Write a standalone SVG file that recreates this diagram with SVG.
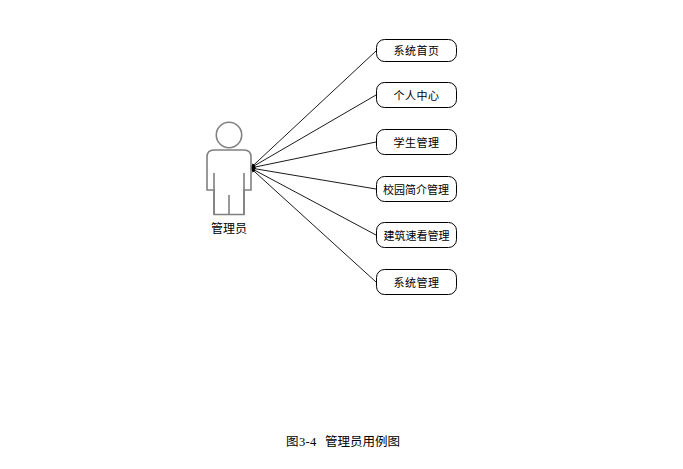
<svg xmlns="http://www.w3.org/2000/svg" width="683" height="469" viewBox="0 0 683 469">
<defs>
<marker id="a" markerWidth="5" markerHeight="4" refX="0" refY="2" orient="auto" markerUnits="userSpaceOnUse"><path d="M5 0L0 2L5 4Z" fill="#000"/></marker>
</defs>
<style>
text{font-family:"Liberation Sans","Noto Sans CJK SC",sans-serif;fill:#000}
.u{font-size:11px;text-anchor:middle}
.b{fill:#fff;stroke:#000;stroke-width:1}
.c{stroke:#000;stroke-width:.9;fill:none;marker-start:url(#a)}
.p{fill:#fff;stroke:#808080;stroke-width:1.6}
</style>
<rect width="683" height="469" fill="#fff"/>
<g id="connectors">
<path class="c" d="M250.500 168L376 51"/>
<path class="c" d="M250.500 168L376 95"/>
<path class="c" d="M250.500 168L376 142"/>
<path class="c" d="M250.500 168L376 189"/>
<path class="c" d="M250.500 168L376 235"/>
<path class="c" d="M250.500 168L376 282"/>
</g>
<g id="actor">
<circle class="p" cx="229" cy="135" r="12.7"/>
<path class="p" d="M214 150H244Q251 150 251 157V190H244V214.500H214V190H207V157Q207 150 214 150Z"/>
<path class="p" d="M214 173V214M244 173V214M229 195V214" fill="none"/>
<text x="229" y="233" font-size="12" text-anchor="middle">管理员</text>
</g>
<g id="n1"><rect class="b" x="376.500" y="39.500" width="80" height="22" rx="8"/><text class="u" x="416.500" y="55" letter-spacing=".5">系统首页</text></g>
<g id="n2"><rect class="b" x="376.500" y="82.500" width="80" height="25" rx="8"/><text class="u" x="416.500" y="100" letter-spacing=".5">个人中心</text></g>
<g id="n3"><rect class="b" x="376.500" y="129.500" width="80" height="25" rx="8"/><text class="u" x="416.500" y="147" letter-spacing=".5">学生管理</text></g>
<g id="n4"><rect class="b" x="376.500" y="176.500" width="80" height="25" rx="8"/><text class="u" x="416" y="194">校园简介管理</text></g>
<g id="n5"><rect class="b" x="376.500" y="222.500" width="80" height="25" rx="8"/><text class="u" x="416.500" y="240">建筑速看管理</text></g>
<g id="n6"><rect class="b" x="376.500" y="269.500" width="80" height="25" rx="8"/><text class="u" x="416.500" y="287" letter-spacing=".5">系统管理</text></g>
<g id="caption"><text x="286" y="446" font-size="12.500"><tspan font-family="Liberation Serif,Noto Sans CJK SC,serif" letter-spacing=".4">图3-4</tspan><tspan x="325">管理员用例图</tspan></text></g>
</svg>
